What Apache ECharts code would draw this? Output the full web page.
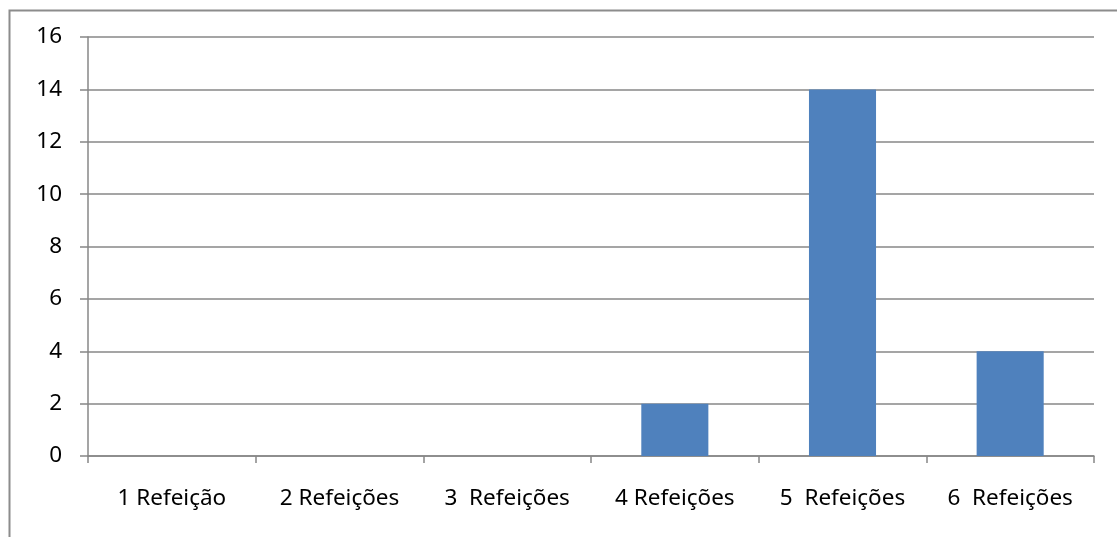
<!DOCTYPE html>
<html>
<head>
<meta charset="utf-8">
<style>
html,body{margin:0;padding:0;background:#fff;}
#chart{width:1117px;height:537px;}
</style>
<script src="https://cdn.jsdelivr.net/npm/echarts@6/dist/echarts.min.js"></script>
</head>
<body>
<div id="chart"></div>
<script>
const categories = ["1 Refeição", "2 Refeições", "3  Refeições", "4 Refeições", "5  Refeições", "6  Refeições"];
const values = [0, 0, 0, 2, 14, 4];
const yMin = 0, yMax = 16, yStep = 2;

const chart = echarts.init(document.getElementById('chart'), null, {renderer: 'canvas'});
const gridColor = '#878787';
const font = '"Noto Sans", "Open Sans", sans-serif';
chart.setOption({
  animation: false,
  backgroundColor: '#fff',
  graphic: [{
    type: 'rect', left: 7, top: 8, silent: true,
    shape: {width: 1200, height: 600},
    style: {fill: 'none', stroke: '#8c8c8c', lineWidth: 2}
  }],
  grid: {left: 88, right: 23, top: 37, bottom: 81, containLabel: false},
  xAxis: {
    type: 'category',
    data: categories,
    boundaryGap: true,
    axisLine: {lineStyle: {color: gridColor, width: 1.5}},
    axisTick: {show: true, length: 7, alignWithLabel: false, interval: 0, lineStyle: {color: gridColor, width: 1.5}},
    axisLabel: {interval: 0, margin: 31, color: '#000', fontFamily: font, fontSize: 22.5},
    splitLine: {show: false}
  },
  yAxis: {
    type: 'value',
    min: yMin, max: yMax, interval: yStep,
    axisLine: {show: true, lineStyle: {color: gridColor, width: 1.5}},
    axisTick: {show: true, length: 8, lineStyle: {color: gridColor, width: 1.5}},
    axisLabel: {margin: 26, color: '#000', fontFamily: font, fontSize: 22.5},
    splitLine: {show: true, lineStyle: {color: gridColor, width: 1.5}}
  },
  series: [{
    type: 'bar',
    data: values,
    barWidth: '40%',
    itemStyle: {color: '#4F81BD'}
  }]
});
</script>
</body>
</html>
